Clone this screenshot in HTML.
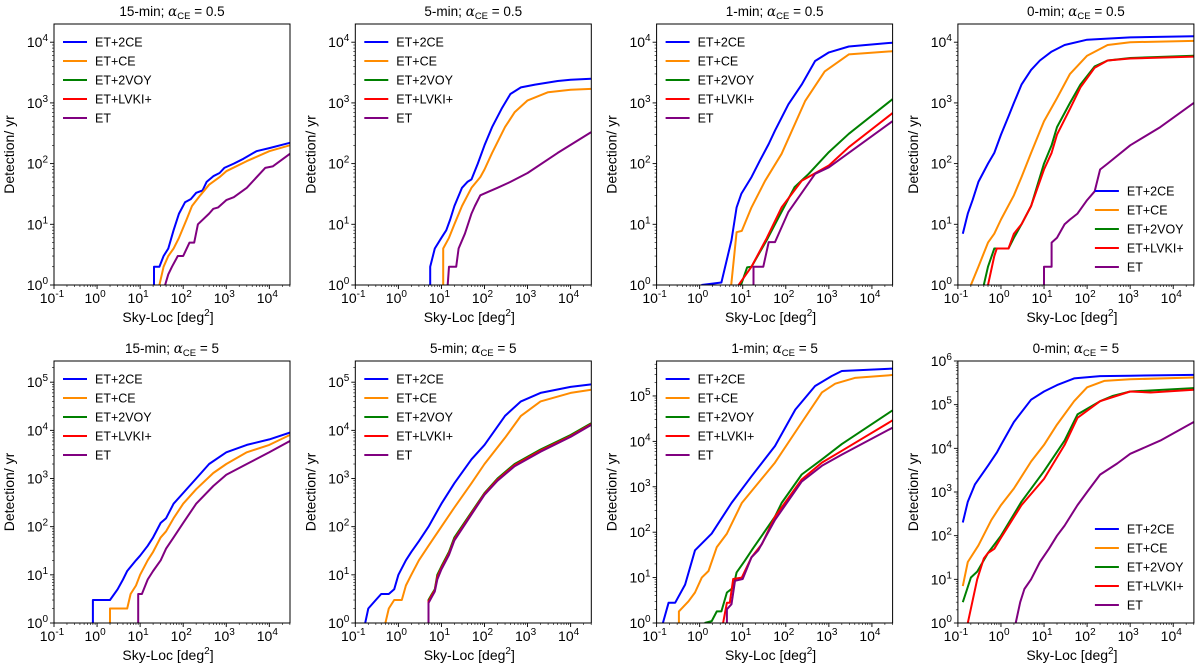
<!DOCTYPE html>
<html><head><meta charset="utf-8"><style>
body{margin:0;background:#fff;}
svg{display:block;font-family:"Liberation Sans","DejaVu Sans",sans-serif;}
</style></head><body>
<svg id="fig" width="1200" height="672" viewBox="0 0 1200 672" xmlns="http://www.w3.org/2000/svg"></svg>
<script>
const seriesNames = ["ET+2CE","ET+CE","ET+2VOY","ET+LVKI+","ET"];
const seriesColors = ["#0000ff","#ff8c00","#008000","#ff0000","#800080"];
const panelTitles = ["15-min","5-min","1-min","0-min","15-min","5-min","1-min","0-min"];
const panelAlpha = ["0.5","0.5","0.5","0.5","5","5","5","5"];
const panelYMaxLog = [4.3,4.3,4.3,4.3,5.44,5.44,5.77,6];
const legendBottomRight = [false,false,false,true,false,false,false,true];
const xTickExps = [-1,0,1,2,3,4];

// data per panel: [ET+2CE, ET+CE, ET+2VOY, ET+LVKI+, ET], each list of [skyloc, detections]
const p1 = [
 [[21,1],[21,2],[28,2],[35,3],[45,4],[60,8],[80,15],[110,23],[150,26],[200,33],[280,36],[350,50],[500,62],[700,70],[900,85],[1500,100],[2500,120],[5000,160],[10000,180],[30000,220]],
 [[28,1],[35,2],[45,3],[60,4],[80,6],[120,12],[160,20],[250,30],[400,45],[700,60],[1000,75],[3000,110],[10000,160],[30000,200]],
 [],[],
 [[38,1],[45,1.5],[55,2],[75,3],[100,3],[140,5],[180,5],[220,10],[400,15],[500,18],[650,19],[1000,25],[1500,28],[3000,40],[8000,85],[12000,90],[30000,145]]
];
const p2 = [
 [[5.5,1],[5.5,2],[7,4],[10,6],[13,8],[16,12],[20,20],[30,40],[40,50],[50,55],[70,100],[100,200],[150,400],[250,800],[400,1400],[700,1800],[1500,2000],[5000,2300],[10000,2400],[30000,2500]],
 [[11,1],[11,4],[15,6],[20,10],[30,20],[50,40],[80,60],[100,80],[150,150],[300,400],[500,700],[1000,1100],[3000,1500],[10000,1650],[30000,1700]],
 [],[],
 [[14,1],[15,2],[22,2],[25,4],[35,7],[50,15],[60,20],[80,30],[130,35],[200,40],[400,50],[1000,70],[5000,150],[30000,330]]
];
const p3 = [
 [[1.1,1],[3.2,1.1],[5.5,5.5],[7.2,19],[9.3,32],[16,60],[25,112],[40,210],[56,350],[115,950],[234,2000],[480,4900],[1000,6800],[2900,8500],[30000,9800]],
 [[5.4,1],[7.2,7.4],[9.5,7.8],[16,19],[33,52],[80,145],[280,1070],[800,3300],[2900,6300],[30000,7100]],
 [[9.1,1],[12.6,1.95],[16,2],[36,5.5],[68,13],[160,41],[340,68],[1000,155],[2900,310],[30000,1150]],
 [[8,1],[16,2],[36,5.9],[80,19],[234,52],[1000,93],[2900,186],[30000,680]],
 [[17.8,1],[17.8,2],[30,2],[40,5.1],[56,5.1],[115,16],[480,68],[1000,87],[30000,500]]
];
const p4 = [
 [[0.13,7],[0.17,15],[0.22,25],[0.3,50],[0.5,100],[0.7,150],[1,300],[1.5,600],[2,1000],[3,2000],[5,3500],[8,5000],[15,7000],[30,9000],[100,11000],[1000,12000],[30000,12500]],
 [[0.2,1],[0.3,2],[0.5,5],[0.7,7],[1,12],[2,30],[3,60],[5,150],[10,500],[20,1200],[40,3000],[100,6000],[300,9000],[1000,10000],[30000,10500]],
 [[0.4,1],[0.5,2],[0.7,4],[1.5,4],[2,6],[3,10],[5,20],[10,100],[15,200],[20,400],[40,1000],[70,2000],[150,4000],[300,5000],[1000,5500],[30000,6000]],
 [[0.5,1],[0.7,3],[0.8,4],[1.5,4],[2,7],[3,10],[5,20],[10,80],[15,150],[20,300],[40,800],[70,1800],[150,3800],[300,5000],[1000,5400],[30000,5800]],
 [[10,1],[10,2],[15,2],[15,5],[20,6],[30,10],[40,12],[60,15],[100,25],[150,35],[200,80],[300,100],[1000,200],[5000,400],[30000,1000]]
];
const p5 = [
 [[0.8,1],[0.8,3],[1.5,3],[2,3],[3,5],[4,8],[5,12],[8,20],[10,25],[15,40],[20,60],[30,120],[40,150],[60,300],[100,500],[200,1000],[400,2000],[1000,3500],[3000,5000],[10000,6500],[30000,9000]],
 [[2,1],[2,2],[5,2],[6,4],[8,6],[10,10],[15,20],[20,30],[30,60],[40,80],[60,150],[100,300],[200,600],[500,1300],[1000,2000],[3000,3500],[10000,5000],[30000,8000]],
 [],[],
 [[9,1],[9,4],[11,4],[15,8],[20,12],[30,20],[40,35],[60,60],[100,120],[200,300],[500,700],[1000,1200],[3000,2000],[10000,3500],[30000,6000]]
];
const p6 = [
 [[0.17,1],[0.2,2],[0.3,3],[0.4,4],[0.6,4],[0.8,5],[1,10],[1.5,20],[2,30],[3,50],[5,100],[10,300],[20,800],[50,2500],[100,5000],[300,20000],[700,40000],[2000,60000],[10000,80000],[30000,90000]],
 [[0.5,1],[0.6,2],[0.8,3],[1.2,3],[1.5,6],[2,10],[3,20],[5,40],[10,100],[20,250],[50,800],[100,2000],[300,7000],[700,20000],[2000,40000],[10000,60000],[30000,70000]],
 [[5,1],[5,3],[6,4],[7,5],[8,10],[10,15],[15,30],[20,60],[50,200],[100,500],[200,1000],[500,2000],[2000,4000],[10000,8000],[30000,14000]],
 [[5,1],[5,2.8],[6,3.8],[7,4.8],[8,9],[10,14],[15,28],[20,55],[50,190],[100,480],[200,950],[500,1900],[2000,3800],[10000,7600],[30000,13500]],
 [[5,1],[5,2.6],[6,3.5],[7,4.5],[8,8],[10,13],[15,26],[20,52],[50,180],[100,460],[200,900],[500,1800],[2000,3600],[10000,7300],[30000,13000]]
];
const p7 = [
 [[0.14,1],[0.19,2.8],[0.27,2.8],[0.46,7],[0.78,40],[1.9,93],[5.5,440],[16,1700],[56,7900],[166,50000],[480,166000],[1170,275000],[2000,355000],[30000,400000]],
 [[0.33,1],[0.33,1.8],[0.55,3],[0.78,4.7],[1.12,10],[1.6,14],[2.5,47],[4.3,93],[9.5,440],[56,3400],[234,26000],[690,120000],[1400,186000],[4000,250000],[30000,290000]],
 [[1.3,1],[1.9,1.1],[2.5,1.8],[3.2,1.8],[4.3,4.7],[6,6],[7.2,13],[11,23],[17,43],[28,85],[56,220],[80,440],[234,1860],[690,4000],[2000,8700],[30000,48000]],
 [[3.5,1],[4.3,2.8],[5,2.8],[6,9.3],[9.5,10],[16,28],[28,55],[56,220],[234,1450],[690,3400],[2000,6200],[30000,29000]],
 [[4.3,1],[4.3,2],[5.5,2.6],[6.6,8.5],[10,9.3],[16,28],[23,40],[56,186],[234,1300],[690,2900],[2000,5100],[30000,20000]]
];
const p8 = [
 [[0.13,200],[0.17,600],[0.25,1500],[0.5,4000],[0.8,8000],[1,12000],[2,40000],[5,130000],[10,200000],[20,280000],[50,400000],[200,450000],[1000,460000],[30000,480000]],
 [[0.13,7],[0.17,25],[0.3,60],[0.6,230],[1,500],[2,1200],[5,5000],[10,12000],[20,35000],[50,120000],[100,250000],[250,350000],[1000,380000],[30000,420000]],
 [[0.13,3],[0.2,11],[0.28,15],[0.5,40],[1,100],[3,600],[10,3000],[30,15000],[60,60000],[200,120000],[400,160000],[1000,200000],[30000,240000]],
 [[0.17,1],[0.28,10],[0.4,30],[0.5,40],[0.7,50],[1,90],[3,500],[10,2000],[30,12000],[60,50000],[200,120000],[400,150000],[1000,200000],[3000,190000],[30000,220000]],
 [[2.2,1],[2.8,3],[3.5,6],[5,10],[8,25],[13,50],[20,100],[30,170],[60,500],[100,1000],[200,2500],[500,4500],[1000,7500],[5000,15000],[30000,40000]]
];
const panelData = [p1,p2,p3,p4,p5,p6,p7,p8];

const NS = "http://www.w3.org/2000/svg";
const fig = document.getElementById('fig');
function mk(tag, attrs, parent){const e=document.createElementNS(NS,tag);for(const k in attrs)e.setAttribute(k,attrs[k]);(parent||fig).appendChild(e);return e;}
const defs = mk('defs',{});
const XMIN=-1, XMAX=4.48, W=236;

panelData.forEach((data, i) => {
  const col=i%4, row=Math.floor(i/4);
  const L=54+col*301.3, T=row?361:24, B=row?623:285, H=B-T;
  const ymax=panelYMaxLog[i];
  const xs=v=>L+(Math.log10(v)-XMIN)/(XMAX-XMIN)*W;
  const ys=v=>B-(Math.log10(v))/ymax*H;
  const g=mk('g',{});
  
  
  const cp=mk('clipPath',{id:'cp'+i},defs);
  mk('rect',{x:L,y:T,width:W,height:H},cp);
  for(let e=-1;e<=5;e++){for(let m=1;m<10;m++){const v=m*Math.pow(10,e);const lv=Math.log10(v);if(lv<XMIN-1e-9||lv>XMAX)continue;const x=xs(v);mk('line',{x1:x,x2:x,y1:B,y2:B+(m==1?4:2),stroke:'#000','stroke-width':m==1?0.9:0.6},g);}}
  xTickExps.forEach(e=>{const t=mk('text',{x:xs(Math.pow(10,e))-2,y:B+18,'text-anchor':'middle','font-size':14,fill:'#000'},g);
    
    t.innerHTML='10<tspan dy="-6" font-size="10">'+e+'</tspan>';});
  for(let e=0;e<=6;e++){for(let m=1;m<10;m++){const v=m*Math.pow(10,e);const lv=Math.log10(v);if(lv>ymax+1e-9)continue;const y=ys(v);mk('line',{x1:L-(m==1?4:2),x2:L,y1:y,y2:y,stroke:'#000','stroke-width':m==1?0.9:0.6},g);}
    if(e<=ymax+1e-9){const t=mk('text',{x:L-6,y:ys(Math.pow(10,e))+5,'text-anchor':'end','font-size':14,fill:'#000'},g);
      
      t.innerHTML='10<tspan dy="-6" font-size="10">'+e+'</tspan>';}}
  data.forEach((pts,s)=>{ if(!pts.length) return;
    const p=mk('polyline',{points:pts.map(d=>xs(d[0]).toFixed(1)+','+ys(d[1]).toFixed(1)).join(' '),fill:'none',stroke:seriesColors[s],'stroke-width':2,'clip-path':'url(#cp'+i+')','stroke-linejoin':'round'},g);
    
    
  });
  const fr=mk('rect',{x:L,y:T,width:W,height:H,fill:'none',stroke:'#000','stroke-width':1},g);
  
  const tt=mk('text',{x:L+W/2,y:T-8,'text-anchor':'middle','font-size':13.5,fill:'#000'},g);
  
  tt.innerHTML=panelTitles[i]+'; <tspan font-style="italic" font-family="DejaVu Serif">α</tspan><tspan dy="3" font-size="9.5">CE</tspan><tspan dy="-3"> = '+panelAlpha[i]+'</tspan>';
  const xl=mk('text',{x:L+W/2-4,y:B+37,'text-anchor':'middle','font-size':14,fill:'#000'},g);
  
  xl.innerHTML='Sky-Loc [deg<tspan dy="-6" font-size="10">2</tspan><tspan dy="6">]</tspan>';
  const yl=mk('text',{x:0,y:0,'text-anchor':'middle','font-size':14,fill:'#000',transform:'translate('+(L-40)+','+(T+H/2)+') rotate(-90)'},g);
  
  yl.textContent='Detection/ yr';
  const lx=legendBottomRight[i]?L+137:L+9, ly0=legendBottomRight[i]?B-94:T+18;
  seriesNames.forEach((n,s)=>{const y=ly0+s*19;
    const lg=mk('g',{},g);
    mk('line',{x1:lx,x2:lx+24,y1:y,y2:y,stroke:seriesColors[s],'stroke-width':2},lg);
    const t=mk('text',{x:lx+32,y:y+4.5,'font-size':12.5,fill:'#000'},lg);t.textContent=n;});
});
</script>
</body></html>
